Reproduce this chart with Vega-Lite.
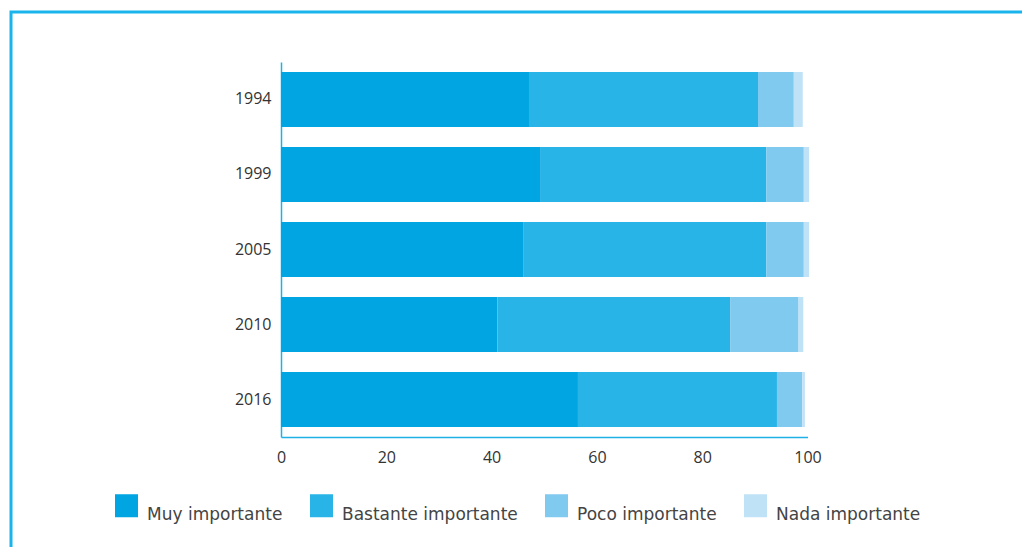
{
  "$schema": "https://vega.github.io/schema/vega-lite/v6.json",
  "width": 1031,
  "height": 555,
  "autosize": {"type": "none"},
  "padding": {"left": 11, "top": 12, "right": -20, "bottom": -20},
  "background": "white",
  "config": {"view": {"stroke": "#1ab4ec", "strokeWidth": 3}},
  "data": {
    "values": [
      {"anio": "1994", "categoria": "Muy importante", "orden": 1, "valor": 47.1},
      {"anio": "1994", "categoria": "Bastante importante", "orden": 2, "valor": 43.5},
      {"anio": "1994", "categoria": "Poco importante", "orden": 3, "valor": 6.8},
      {"anio": "1994", "categoria": "Nada importante", "orden": 4, "valor": 1.7},
      {"anio": "1999", "categoria": "Muy importante", "orden": 1, "valor": 49.2},
      {"anio": "1999", "categoria": "Bastante importante", "orden": 2, "valor": 43.0},
      {"anio": "1999", "categoria": "Poco importante", "orden": 3, "valor": 7.1},
      {"anio": "1999", "categoria": "Nada importante", "orden": 4, "valor": 1.0},
      {"anio": "2005", "categoria": "Muy importante", "orden": 1, "valor": 46.1},
      {"anio": "2005", "categoria": "Bastante importante", "orden": 2, "valor": 46.1},
      {"anio": "2005", "categoria": "Poco importante", "orden": 3, "valor": 7.1},
      {"anio": "2005", "categoria": "Nada importante", "orden": 4, "valor": 1.0},
      {"anio": "2010", "categoria": "Muy importante", "orden": 1, "valor": 41.1},
      {"anio": "2010", "categoria": "Bastante importante", "orden": 2, "valor": 44.2},
      {"anio": "2010", "categoria": "Poco importante", "orden": 3, "valor": 13.0},
      {"anio": "2010", "categoria": "Nada importante", "orden": 4, "valor": 0.9},
      {"anio": "2016", "categoria": "Muy importante", "orden": 1, "valor": 56.4},
      {"anio": "2016", "categoria": "Bastante importante", "orden": 2, "valor": 37.8},
      {"anio": "2016", "categoria": "Poco importante", "orden": 3, "valor": 4.8},
      {"anio": "2016", "categoria": "Nada importante", "orden": 4, "valor": 0.5}
    ]
  },
  "mark": {"type": "bar"},
  "encoding": {
    "y": {
      "field": "anio",
      "type": "nominal",
      "scale": {"range": [50, 425], "paddingInner": 0.267, "paddingOuter": 0.133},
      "axis": {
        "title": null,
        "orient": "left",
        "offset": -270,
        "ticks": false,
        "domainColor": "#1fb0e6",
        "domainWidth": 1.5,
        "labelFont": "Open Sans",
        "labelFontSize": 16,
        "labelColor": "#333333",
        "labelPadding": 10
      }
    },
    "x": {
      "field": "valor",
      "type": "quantitative",
      "stack": "zero",
      "scale": {"domain": [0, 100], "range": [270, 796.5], "nice": false},
      "axis": {
        "title": null,
        "orient": "bottom",
        "offset": -130,
        "values": [0, 20, 40, 60, 80, 100],
        "grid": false,
        "ticks": false,
        "labelFlush": false,
        "domainColor": "#1fb0e6",
        "domainWidth": 1.5,
        "labelFont": "Open Sans",
        "labelFontSize": 16,
        "labelColor": "#333333",
        "labelPadding": 12
      }
    },
    "order": {"field": "orden", "type": "quantitative", "sort": "ascending"},
    "color": {
      "field": "categoria",
      "type": "nominal",
      "sort": ["Muy importante", "Bastante importante", "Poco importante", "Nada importante"],
      "scale": {
        "domain": ["Muy importante", "Bastante importante", "Poco importante", "Nada importante"],
        "range": ["#00a5e2", "#29b4e8", "#80c9ef", "#c0e2f6"]
      },
      "legend": {
        "title": null,
        "orient": "none",
        "legendX": 104,
        "legendY": 482,
        "direction": "horizontal",
        "symbolType": "square",
        "symbolSize": 529,
        "symbolStrokeWidth": 0,
        "labelFont": "DejaVu Sans",
        "labelFontSize": 17,
        "labelLimit": 400,
        "labelColor": "#444444",
        "labelOffset": 9,
        "labelBaseline": "line-top",
        "labelLineHeight": 7,
        "columnPadding": 27,
        "padding": 0
      }
    }
  }
}
